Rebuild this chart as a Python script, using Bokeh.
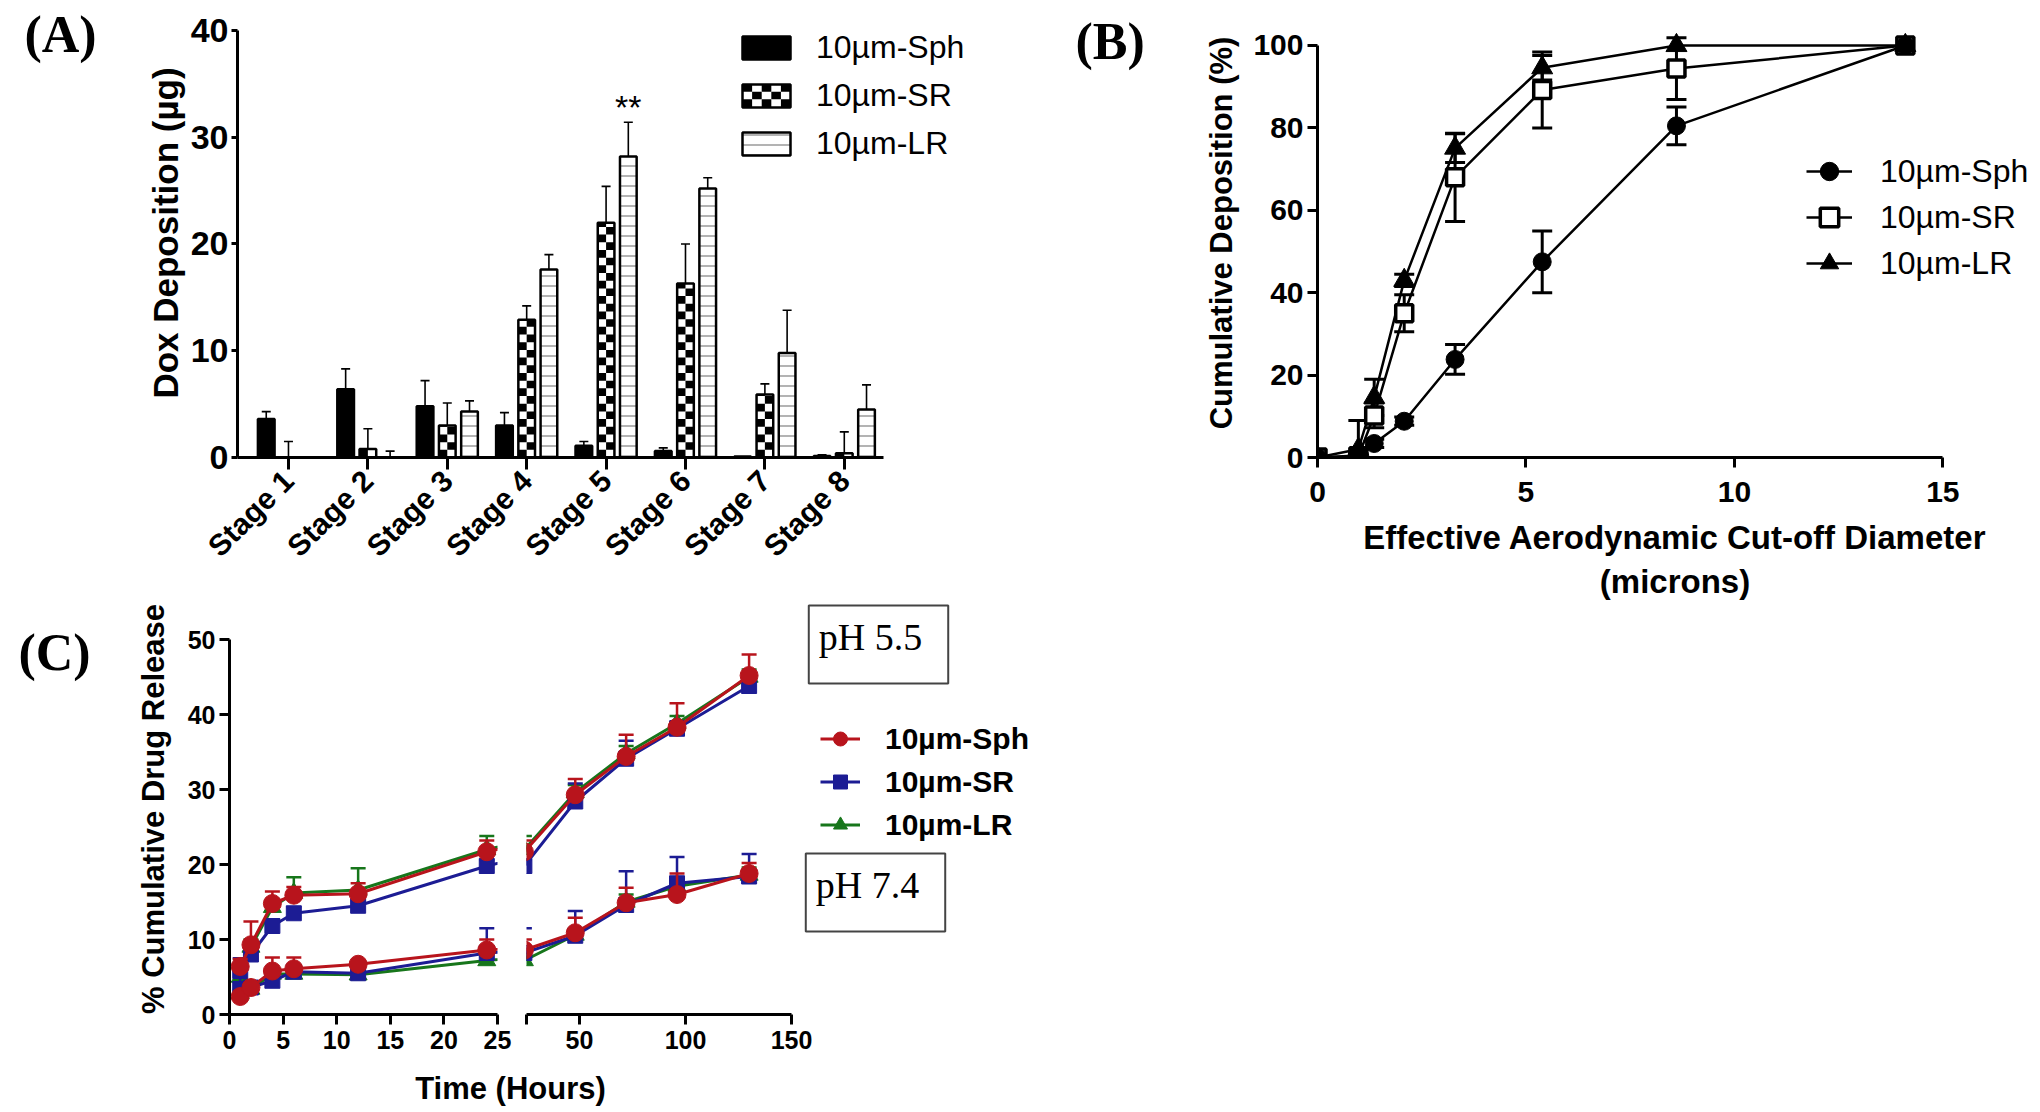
import math
from bokeh.plotting import figure
from bokeh.layouts import column, row
from bokeh.models import Range1d, FixedTicker, Legend, LegendItem, Label
from bokeh.embed import file_html
from bokeh.resources import INLINE

SANS = "Liberation Sans"
SERIF = "Liberation Serif"

# ---------------- data: panel A ----------------
stage_labels = ["Stage 1", "Stage 2", "Stage 3", "Stage 4", "Stage 5", "Stage 6", "Stage 7", "Stage 8"]
stage_pos = [1, 2, 3, 4, 5, 6, 7, 8]
a_sph = [3.6, 6.4, 4.8, 3.0, 1.1, 0.6, 0.1, 0.15]
a_sph_err = [0.7, 1.9, 2.4, 1.2, 0.4, 0.3, 0.0, 0.1]
a_sr = [0.0, 0.8, 3.0, 12.9, 22.0, 16.3, 5.9, 0.4]
a_sr_err = [1.5, 1.9, 2.1, 1.3, 3.4, 3.7, 1.0, 2.0]
a_lr = [0.0, 0.0, 4.3, 17.6, 28.2, 25.2, 9.8, 4.5]
a_lr_err = [0.0, 0.6, 1.0, 1.4, 3.2, 1.0, 4.0, 2.3]
a_yticks = [0, 10, 20, 30, 40]
series_names = ["10µm-Sph", "10µm-SR", "10µm-LR"]
a_sig_text = "**"
a_sig_stage = 5
a_sig_y = 34.6

# ---------------- data: panel B ----------------
b_diam = [0.0, 0.98, 1.36, 2.08, 3.30, 5.39, 8.61, 14.1]
b_sph = [0.0, 0.5, 3.4, 8.8, 23.8, 47.5, 80.5, 100.0]
b_sph_err = [0.0, 0.5, 1.0, 1.0, 3.6, 7.5, 4.6, 0.0]
b_sr = [0.0, 0.3, 10.2, 35.0, 68.0, 89.2, 94.4, 100.0]
b_sr_err = [0.0, 0.5, 3.0, 4.5, 10.7, 9.2, 7.5, 0.0]
b_lr = [0.0, 2.0, 14.6, 43.0, 75.1, 94.6, 100.0, 100.0]
b_lr_err = [0.0, 7.0, 4.4, 1.5, 3.5, 3.0, 0.0, 0.0]
b_xticks = [0, 5, 10, 15]
b_yticks = [0, 20, 40, 60, 80, 100]

# ---------------- data: panel C ----------------
c_hours = [1, 2, 4, 6, 12, 24, 48, 72, 96, 130]
c_sph55 = [6.4, 9.3, 14.8, 15.9, 16.1, 21.7, 29.3, 34.4, 38.3, 45.2]
c_sph55_err = [1.0, 3.1, 1.6, 1.1, 1.4, 1.5, 2.1, 2.9, 3.2, 2.8]
c_sr55 = [5.8, 8.0, 11.8, 13.5, 14.5, 19.8, 28.4, 34.1, 38.1, 43.8]
c_sr55_err = [1.0, 1.0, 0.8, 0.8, 0.7, 0.8, 2.4, 2.4, 1.0, 0.8]
c_lr55 = [5.0, 9.0, 14.3, 16.2, 16.6, 22.0, 29.6, 34.8, 38.8, 45.0]
c_lr55_err = [0.8, 1.0, 1.0, 2.1, 2.9, 1.8, 1.0, 1.0, 1.0, 1.0]
c_sph74 = [2.4, 3.6, 5.8, 6.1, 6.7, 8.6, 10.9, 14.9, 16.0, 18.8]
c_sph74_err = [0.5, 0.5, 1.8, 1.5, 0.5, 1.4, 2.0, 2.0, 2.8, 1.4]
c_sr74 = [3.4, 3.6, 4.5, 5.7, 5.5, 8.2, 10.5, 14.6, 17.5, 18.4]
c_sr74_err = [4.1, 0.6, 0.5, 0.5, 0.5, 3.3, 3.3, 4.5, 3.5, 3.0]
c_lr74 = [2.8, 3.4, 5.4, 5.4, 5.3, 7.2, 10.6, 15.0, 17.1, 18.6]
c_lr74_err = [0.5, 0.5, 0.5, 0.6, 0.5, 0.5, 0.8, 1.0, 1.0, 1.0]
c_xticks_left = [0, 5, 10, 15, 20, 25]
c_xticks_right = [25, 50, 100, 150]
c_yticks = [0, 10, 20, 30, 40, 50]
c_box_texts = ["pH 5.5", "pH 7.4"]

RED = "#B8141C"
BLUE = "#1C1C94"
GREEN = "#17761B"

# ---------------- layout constants (pixels) ----------------
ROW1_H = 603
ROW1_TOP = 8          # frame top border shared by all row-1 plots
ROW1_FRAME_BOTTOM = 457
ROW2_H = 466
ROW2_FRAME_BOTTOM = 1014 - ROW1_H   # within row 2
TITLE_H = 40


def style_axes(p, tick_px=26, title_px=32):
    for ax in p.axis:
        ax.axis_line_width = 3
        ax.axis_line_color = "black"
        ax.major_tick_line_width = 3
        ax.major_tick_line_color = "black"
        ax.major_tick_out = 10
        ax.major_tick_in = 0
        ax.minor_tick_line_color = None
        ax.major_label_text_font = SANS
        ax.major_label_text_font_style = "bold"
        ax.major_label_text_font_size = f"{tick_px}px"
        ax.major_label_text_color = "black"
        ax.axis_label_text_font = SANS
        ax.axis_label_text_font_style = "bold"
        ax.axis_label_text_font_size = f"{title_px}px"
        ax.axis_label_text_color = "black"
    p.grid.visible = False
    p.outline_line_color = None


def add_errbars(p, xs, ys, errs, color, lw, cap, both=False):
    keep = [i for i, e in enumerate(errs) if e > 0]
    xe = [xs[i] for i in keep]
    ye = [ys[i] for i in keep]
    hi = [ys[i] + errs[i] for i in keep]
    lo = [ys[i] - errs[i] for i in keep] if both else ye
    p.segment(x0=xe, y0=lo, x1=xe, y1=hi, line_color=color, line_width=lw)
    p.scatter(x=xe, y=hi, marker="dash", size=cap, line_color=color, line_width=lw)
    if both:
        p.scatter(x=xe, y=lo, marker="dash", size=cap, line_color=color, line_width=lw)


def checker_cells(x0, x1, y0, y1, ncols, cell_h):
    """black cells of a checkerboard filling the box (x0..x1, y0..y1)"""
    L, R, B, T = [], [], [], []
    cw = (x1 - x0) / ncols
    nrows = max(0, math.ceil((y1 - y0) / cell_h - 1e-9))
    for r in range(nrows):
        for c in range(ncols):
            if (r + c) % 2 == 0:
                L.append(x0 + c * cw)
                R.append(x0 + (c + 1) * cw)
                B.append(y0 + r * cell_h)
                T.append(min(y0 + (r + 1) * cell_h, y1))
    return L, R, B, T


def letter_fig(w, h, top_b, bot_b, text, x, y):
    f = figure(width=w, height=h, x_range=Range1d(0, 1), y_range=Range1d(0, 1),
               output_backend="svg", toolbar_location=None, x_axis_location=None,
               y_axis_location=None, min_border_left=0, min_border_right=0,
               min_border_top=top_b, min_border_bottom=bot_b)
    f.outline_line_color = None
    f.grid.visible = False
    f.add_layout(Label(x=x, y=y, x_units="screen", y_units="screen", text=text, text_font=SERIF,
                       text_font_style="bold", text_font_size="52px", text_baseline="top",
                       text_align="left", text_color="black"))
    return f


# =================== Panel A ===================
A_LEFT, A_PXX, A_X0 = 237, 79.4, 0.358
A_YEND = 42.06
A_PXY = (ROW1_FRAME_BOTTOM - ROW1_TOP) / A_YEND
pA = figure(width=950, height=ROW1_H, x_range=Range1d(A_X0, 10.66), y_range=Range1d(0, A_YEND),
            output_backend="svg", toolbar_location=None,
            min_border_left=127, min_border_right=5, min_border_top=ROW1_TOP,
            min_border_bottom=ROW1_H - ROW1_FRAME_BOTTOM)
style_axes(pA, tick_px=34, title_px=35)

off = 0.28
bw = 0.21
xa_sph = [x - off for x in stage_pos]
xa_sr = [x for x in stage_pos]
xa_lr = [x + off for x in stage_pos]

add_errbars(pA, xa_sph, a_sph, a_sph_err, "black", 1.6, 9)
add_errbars(pA, xa_sr, a_sr, a_sr_err, "black", 1.6, 9)
add_errbars(pA, xa_lr, a_lr, a_lr_err, "black", 1.6, 9)

rA1 = pA.vbar(x=xa_sph, top=a_sph, width=bw, fill_color="black", line_color="black", line_width=2.5)
pA.vbar(x=xa_sr, top=a_sr, width=bw, fill_color="white", line_color=None)
cl, cr, cb, ct = [], [], [], []
for xc, v in zip(xa_sr, a_sr):
    l_, r_, b_, t_ = checker_cells(xc - bw / 2, xc + bw / 2, 0.0, v, 2, 0.72)
    cl += l_; cr += r_; cb += b_; ct += t_
# checker pattern for the SR legend swatch (legend glyph box: 48x23 px)
sw_x0 = A_X0 + (742 - A_LEFT) / A_PXX
sw_x1 = A_X0 + (790 - A_LEFT) / A_PXX
sw_y0 = (ROW1_FRAME_BOTTOM - 106.5) / A_PXY
sw_y1 = (ROW1_FRAME_BOTTOM - 83.5) / A_PXY
l_, r_, b_, t_ = checker_cells(sw_x0, sw_x1, sw_y0, sw_y1, 5, (sw_y1 - sw_y0) / 3)
cl += l_; cr += r_; cb += b_; ct += t_
pA.quad(left=cl, right=cr, bottom=cb, top=ct, fill_color="black", line_color=None)
rA2 = pA.vbar(x=xa_sr, top=a_sr, width=bw, fill_alpha=0, line_color="black", line_width=2.5)
rA3 = pA.vbar(x=xa_lr, top=a_lr, width=bw, fill_color="white", line_color="black", line_width=2.5,
              hatch_pattern="horizontal_line", hatch_color="#9a9a9a", hatch_scale=10, hatch_weight=1.5)

pA.add_layout(Label(x=a_sig_stage + off, y=a_sig_y, text=a_sig_text, text_font=SANS, text_font_size="34px",
                    text_align="center", text_baseline="top", text_color="black"))

pA.xaxis.ticker = FixedTicker(ticks=stage_pos)
ov = {}
for i, s in zip(stage_pos, stage_labels):
    ov[i] = s
    ov[str(i)] = s
pA.xaxis.major_label_overrides = ov
pA.xaxis.major_label_orientation = math.pi / 4
pA.xaxis.major_label_standoff = 6
pA.xaxis.major_tick_out = 12
pA.xaxis.major_label_text_font_size = "30px"
pA.xaxis.bounds = (A_X0, 8.49)
pA.yaxis.ticker = FixedTicker(ticks=a_yticks)
pA.yaxis.bounds = (0, 40)
pA.yaxis.major_tick_out = 6
pA.yaxis.major_label_standoff = 3
pA.yaxis.axis_label = "Dox Deposition (µg)"
pA.yaxis.axis_label_standoff = 3

legA = Legend(items=[LegendItem(label=n, renderers=[r]) for n, r in zip(series_names, [rA1, rA2, rA3])],
              location=(499, 295), glyph_width=60, glyph_height=29, label_height=29, spacing=11,
              label_standoff=20, padding=0, margin=0, border_line_color=None, background_fill_alpha=0,
              label_text_font=SANS, label_text_font_size="32px", label_text_color="black")
pA.add_layout(legA)

# =================== Panel B ===================
B_YEND = 108.98
pB = figure(width=871, height=ROW1_H, x_range=Range1d(0, 17.15), y_range=Range1d(0, B_YEND),
            output_backend="svg", toolbar_location=None,
            min_border_left=152, min_border_right=4, min_border_top=ROW1_TOP,
            min_border_bottom=ROW1_H - ROW1_FRAME_BOTTOM)
style_axes(pB, tick_px=30, title_px=33)
pB.xaxis.bounds = (0, 15)
pB.yaxis.bounds = (0, 100)
pB.xaxis.ticker = FixedTicker(ticks=b_xticks)
pB.yaxis.ticker = FixedTicker(ticks=b_yticks)
pB.xaxis.major_label_standoff = 14
pB.yaxis.major_label_standoff = 4
pB.xaxis.axis_label = "Effective Aerodynamic Cut-off Diameter\n(microns)"
pB.xaxis.axis_label_standoff = 14
pB.yaxis.axis_label = "Cumulative Deposition (%)"
pB.yaxis.axis_label_standoff = 11
pB.yaxis.axis_label_text_font_size = "31px"

add_errbars(pB, b_diam, b_sr, b_sr_err, "black", 3, 20, both=True)
add_errbars(pB, b_diam, b_sph, b_sph_err, "black", 3, 20, both=True)
add_errbars(pB, b_diam, b_lr, b_lr_err, "black", 3, 20, both=True)
lB2 = pB.line(b_diam, b_sr, line_color="black", line_width=2.5)
lB1 = pB.line(b_diam, b_sph, line_color="black", line_width=2.5)
lB3 = pB.line(b_diam, b_lr, line_color="black", line_width=2.5)
mB2 = pB.scatter(b_diam, b_sr, marker="square", size=17, fill_color="white", line_color="black", line_width=3.5)
mB1 = pB.scatter(b_diam, b_sph, marker="circle", size=18, fill_color="black", line_color="black")
mB3 = pB.scatter(b_diam, b_lr, marker="triangle", size=21, fill_color="black", line_color="black")

legB = Legend(items=[LegendItem(label=series_names[0], renderers=[lB1, mB1]),
                     LegendItem(label=series_names[1], renderers=[lB2, mB2]),
                     LegendItem(label=series_names[2], renderers=[lB3, mB3])],
              location=(489, 171), glyph_width=46, glyph_height=46, label_height=46, spacing=0,
              label_standoff=28, padding=0, margin=0, border_line_color=None, background_fill_alpha=0,
              label_text_font=SANS, label_text_font_size="32px", label_text_color="black")
pB.add_layout(legB)

# =================== Panel C ===================
def draw_c(p):
    rends = {}
    for vals55, err55, vals74, err74, color, marker, size, key in [
        (c_lr55, c_lr55_err, c_lr74, c_lr74_err, GREEN, "triangle", 18, "lr"),
        (c_sr55, c_sr55_err, c_sr74, c_sr74_err, BLUE, "square", 15, "sr"),
        (c_sph55, c_sph55_err, c_sph74, c_sph74_err, RED, "circle", 18, "sph"),
    ]:
        for vals, errs, first in [(vals55, err55, True), (vals74, err74, False)]:
            add_errbars(p, c_hours, vals, errs, color, 2.5, 15)
            ln = p.line(c_hours, vals, line_color=color, line_width=3)
            mk = p.scatter(c_hours, vals, marker=marker, size=size, fill_color=color, line_color=color)
            if first:
                rends[key] = (ln, mk)
    return rends


C_YEND = 54.8
C_BB = ROW2_H - ROW2_FRAME_BOTTOM
pC1 = figure(width=402, height=ROW2_H, x_range=Range1d(0, 25), y_range=Range1d(0, C_YEND),
             output_backend="svg", toolbar_location=None,
             min_border_left=119, min_border_right=15, min_border_top=0, min_border_bottom=C_BB)
style_axes(pC1, tick_px=25, title_px=31)
pC1.xaxis.ticker = FixedTicker(ticks=c_xticks_left)
pC1.yaxis.ticker = FixedTicker(ticks=c_yticks)
pC1.yaxis.bounds = (0, 50)
pC1.xaxis.major_label_standoff = 6
pC1.yaxis.major_label_standoff = 4
pC1.yaxis.axis_label = "% Cumulative Drug Release"
pC1.yaxis.axis_label_standoff = 14
draw_c(pC1)

pC2 = figure(width=548, height=ROW2_H, x_range=Range1d(25, 275.0), y_range=Range1d(0, C_YEND),
             output_backend="svg", toolbar_location=None, y_axis_location=None,
             min_border_left=14, min_border_right=4, min_border_top=0, min_border_bottom=C_BB)
style_axes(pC2, tick_px=25, title_px=31)
pC2.xaxis.ticker = FixedTicker(ticks=c_xticks_right)
pC2.xaxis.major_label_overrides = {25: "", "25": ""}
pC2.xaxis.bounds = (25, 150)
pC2.xaxis.major_label_standoff = 6
rc = draw_c(pC2)

legC = Legend(items=[LegendItem(label=series_names[0], renderers=list(rc["sph"])),
                     LegendItem(label=series_names[1], renderers=list(rc["sr"])),
                     LegendItem(label=series_names[2], renderers=list(rc["lr"]))],
              location=(294, 172), glyph_width=40, glyph_height=35, label_height=35, spacing=8,
              label_standoff=25, padding=0, margin=0, border_line_color=None, background_fill_alpha=0,
              label_text_font=SANS, label_text_font_style="bold", label_text_font_size="30px",
              label_text_color="black")
pC2.add_layout(legC)
for txt, bx, by in [(c_box_texts[0], 352, 370), (c_box_texts[1], 349, 122)]:
    pC2.add_layout(Label(x=bx, y=by, x_units="screen", y_units="screen", text=txt, text_font=SERIF,
                         text_font_size="38px", text_align="center", text_baseline="middle",
                         text_color="black", border_line_color="#444444", border_line_width=2,
                         background_fill_color="white", padding=(10, 26, 10, 26)))

pT = figure(width=1060, height=TITLE_H, x_range=Range1d(0, 1), y_range=Range1d(0, 1),
            output_backend="svg", toolbar_location=None, x_axis_location=None, y_axis_location=None,
            min_border=0)
pT.outline_line_color = None
pT.grid.visible = False
pT.add_layout(Label(x=510, y=21, x_units="screen", y_units="screen", text="Time (Hours)", text_font=SANS,
                    text_font_style="bold", text_font_size="31px", text_align="center",
                    text_baseline="middle", text_color="black"))

R1B = ROW1_H - ROW1_FRAME_BOTTOM
fA = letter_fig(110, ROW1_H, ROW1_TOP, R1B, "(A)", 24, ROW1_FRAME_BOTTOM - 5)
fB = letter_fig(105, ROW1_H, ROW1_TOP, R1B, "(B)", 15, ROW1_FRAME_BOTTOM - 12)
fC = letter_fig(110, ROW2_H, 0, C_BB, "(C)", 18, 1014 - 623)

layout = column(row(fA, pA, fB, pB, spacing=0), row(fC, pC1, pC2, spacing=0), pT, spacing=0)
open("out.html", "w").write(file_html(layout, INLINE))
